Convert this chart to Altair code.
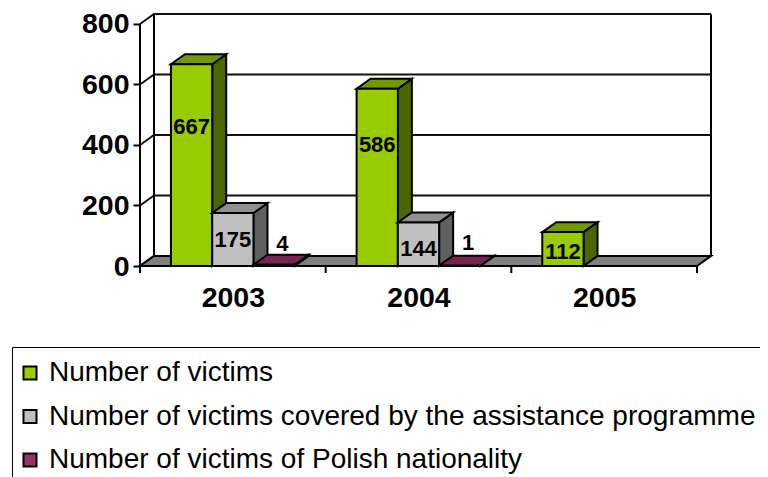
import altair as alt
import pandas as pd

years = ["2003", "2004", "2005"]
series = ["Number of victims",
          "Number of victims covered by the assistance programme",
          "Number of victims of Polish nationality"]
victims = [667, 586, 112]
assisted = [175, 144, None]
polish = [4, 1, None]
y_ticks = [0, 200, 400, 600, 800]

front_colors = ["#99CC00", "#C0C0C0", "#993366"]
top_colors = ["#739900", "#909090", "#732650"]
side_colors = ["#4C6600", "#606060", "#4D1933"]
FONT = "Liberation Sans"

# pseudo-3D projection, in data units
DX = 14 / 185.67
DY = 33
GAP = 1 / 6
BAR = 2 / 9
XMAX = 3 + DX
YMAX = 833
# where each label sits (series index, category index) -> height in data units
label_y = {(0, 0): 459, (0, 1): 401, (0, 2): 46, (1, 0): 86, (1, 1): 56, (2, 0): 73, (2, 1): 76}

x_scale = alt.Scale(domain=[0, XMAX], nice=False, zero=False)
y_scale = alt.Scale(domain=[0, YMAX], nice=False, zero=False)
x_axis = alt.Axis(values=[0.5, 1.5, 2.5], tickSize=0, domain=False, grid=False,
                  labelExpr="%r[floor(datum.value)]" % years,
                  labelFont=FONT, labelFontSize=28.5, labelFontWeight="bold", labelColor="black",
                  labelPadding=17, labelAngle=0, labelFlush=False, labelOverlap=False)
y_axis = alt.Axis(values=y_ticks, tickSize=7, tickColor="black", tickWidth=2, domain=False, grid=False,
                  labelFont=FONT, labelFontSize=28.5, labelFontWeight="bold", labelColor="black",
                  labelPadding=4, labelOverlap=False, labelFlush=False)
X = alt.X("x:Q", scale=x_scale, title=None, axis=x_axis)
Y = alt.Y("y:Q", scale=y_scale, title=None, axis=y_axis, stack=None)
Y2 = alt.Y2("y2:Q")

legend = alt.Legend(title=" ", titleFontSize=1, titlePadding=7, orient="none", legendX=-128, legendY=333,
                    direction="vertical", columns=1,
                    fillColor="white", strokeColor="black", padding=4,
                    symbolType="square", symbolSize=170,
                    symbolStrokeColor="black", symbolStrokeWidth=2,
                    labelFont=FONT, labelFontSize=28, labelColor="black",
                    labelLimit=800, labelOffset=5, rowPadding=15.5)


def poly(rows, col):
    return alt.Chart(pd.DataFrame(rows)).mark_area(
        color=col, stroke="black", strokeWidth=2).encode(x=X, y=Y, y2=Y2)


# ---- back wall / grid ----
grid_rows = []
for v in y_ticks:
    grid_rows += [dict(id=v, x=0, y=v), dict(id=v, x=DX, y=v + DY), dict(id=v, x=XMAX, y=v + DY)]
grid = alt.Chart(pd.DataFrame(grid_rows)).mark_line(color="#111111", strokeWidth=2).encode(
    x=X, y=Y, detail="id:N", order="x:Q")

vert_rows = [dict(x=0, y=0, y2=800), dict(x=DX, y=DY, y2=800 + DY), dict(x=XMAX, y=DY, y2=800 + DY)]
verts = alt.Chart(pd.DataFrame(vert_rows)).mark_rule(color="black", strokeWidth=2).encode(x=X, y=Y, y2=Y2)

# ---- floor ----
floor = poly([dict(x=0, y=0, y2=0), dict(x=DX, y=0, y2=DY), dict(x=3, y=0, y2=DY), dict(x=XMAX, y=DY, y2=DY)],
             "#808080")

cat_ticks = alt.Chart(pd.DataFrame({"x": [0, 1, 2, 3]})).mark_rule(color="black", strokeWidth=2).encode(
    x=X, y=alt.value(252), y2=alt.value(259))

layers = [grid, verts, floor, cat_ticks]
all_series = [victims, assisted, polish]

# ---- bars ----
for i, values in enumerate(all_series):
    fronts = []
    for c, v in enumerate(values):
        if v is None:
            continue
        xl = c + GAP + i * BAR
        xr = xl + BAR
        fronts.append(dict(x=xl, x2=xr, y=0, y2=v, series=series[i]))
        layers.append(poly([dict(x=xr, y=0, y2=v), dict(x=xr + DX, y=DY, y2=v + DY)], side_colors[i]))
        layers.append(poly([dict(x=xl, y=v, y2=v), dict(x=xl + DX, y=v, y2=v + DY),
                            dict(x=xr, y=v, y2=v + DY), dict(x=xr + DX, y=v + DY, y2=v + DY)], top_colors[i]))
    layers.append(alt.Chart(pd.DataFrame(fronts)).mark_bar(stroke="black", strokeWidth=2).encode(
        x=X, x2="x2:Q", y=Y, y2=Y2,
        color=alt.Color("series:N", scale=alt.Scale(domain=series, range=front_colors), legend=legend)))

# ---- data labels ----
label_rows = []
for i, vals in enumerate(all_series):
    for c, v in enumerate(vals):
        if v is None:
            continue
        xc = c + GAP + (i + 0.5) * BAR + (DX * 0.6 if i == 2 else 0)
        label_rows.append(dict(x=xc, y=label_y[(i, c)], label=str(v)))
layers.append(alt.Chart(pd.DataFrame(label_rows)).mark_text(
    font=FONT, fontSize=22, fontWeight="bold", color="black").encode(x=X, y=Y, text="label:N"))

chart = alt.layer(*layers).resolve_scale(color="shared").properties(
    width=571, height=252,
    padding={"left": 132, "top": 6, "right": 49, "bottom": 211},
    autosize=alt.AutoSizeParams(type="none"),
    background="white",
).configure_view(stroke=None)

chart.save("out.html", embed_options={"renderer": "svg", "actions": False})
